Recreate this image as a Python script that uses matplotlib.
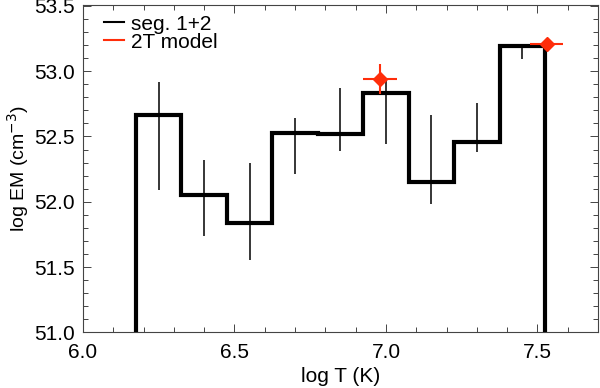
import numpy as np
import matplotlib
matplotlib.use("Agg")
import matplotlib.pyplot as plt
from matplotlib.ticker import MultipleLocator

# DEM bins (log T edges) and heights for seg. 1+2
bin_edges = [6.175, 6.325, 6.475, 6.625, 6.775, 6.925, 7.075, 7.225, 7.375, 7.525]
log_em = [52.665, 52.048, 51.84, 52.53, 52.52, 52.83, 52.155, 52.46, 53.19]
# error bar ranges at bin centres
err_lo = [52.09, 51.74, 51.55, 52.21, 52.39, 52.44, 51.98, 52.38, 53.09]
err_hi = [52.92, 52.32, 52.30, 52.64, 52.87, 52.93, 52.665, 52.76, 53.21]

# 2T model points
t2_logt = [6.98, 7.53]
t2_logem = [52.94, 53.21]
t2_xerr = [0.055, 0.055]
t2_yerr = [0.115, 0.045]

RED = "#ff2d0a"

plt.rcParams['font.family'] = ['Liberation Sans', 'DejaVu Sans']
plt.rcParams['font.size'] = 15

fig = plt.figure(figsize=(6.0, 3.88), dpi=100)
ax = fig.add_axes([0.1383, 0.1436, 0.8584, 0.8444])

centers = (np.array(bin_edges[:-1]) + np.array(bin_edges[1:])) / 2

ax.vlines(centers, err_lo, err_hi, color="black", lw=1.1, zorder=2)
ax.stairs(log_em, bin_edges, baseline=50.0, color="black", lw=3.0, zorder=3)
ax.errorbar(t2_logt, t2_logem, xerr=t2_xerr, yerr=t2_yerr, fmt="D", color=RED,
            ms=7, elinewidth=1.5, capsize=0, zorder=4)

# legend
ax.plot([], [], color="black", lw=1.5, label="seg. 1+2")
ax.plot([], [], color=RED, lw=1.5, label="2T model")
ax.legend(loc="upper left", frameon=False, handlelength=0.95, handletextpad=0.35,
          labelspacing=-0.05, borderaxespad=0.0, bbox_to_anchor=(0.025, 0.995), fontsize=15)

ax.set_xlim(6.0, 7.7)
ax.set_ylim(51.0, 53.51)
ax.xaxis.set_major_locator(MultipleLocator(0.5))
ax.xaxis.set_minor_locator(MultipleLocator(0.1))
ax.yaxis.set_major_locator(MultipleLocator(0.5))
ax.yaxis.set_minor_locator(MultipleLocator(0.1))
ax.xaxis.set_major_formatter(plt.FormatStrFormatter("%.1f"))
ax.yaxis.set_major_formatter(plt.FormatStrFormatter("%.1f"))
ax.tick_params(which="both", direction="in", top=True, right=True, width=0.7, color="#444444")
ax.tick_params(which="major", length=6)
ax.tick_params(which="minor", length=3.5)
ax.tick_params(axis="x", pad=8)
ax.tick_params(axis="y", pad=6)
for s in ax.spines.values():
    s.set_linewidth(0.8)
    s.set_color("#444444")

ax.set_xlabel("log T (K)", labelpad=3)
ax.set_ylabel("log EM (cm$^{-3}$)", fontsize=14, labelpad=2)

fig.savefig("out.png", dpi=100)
